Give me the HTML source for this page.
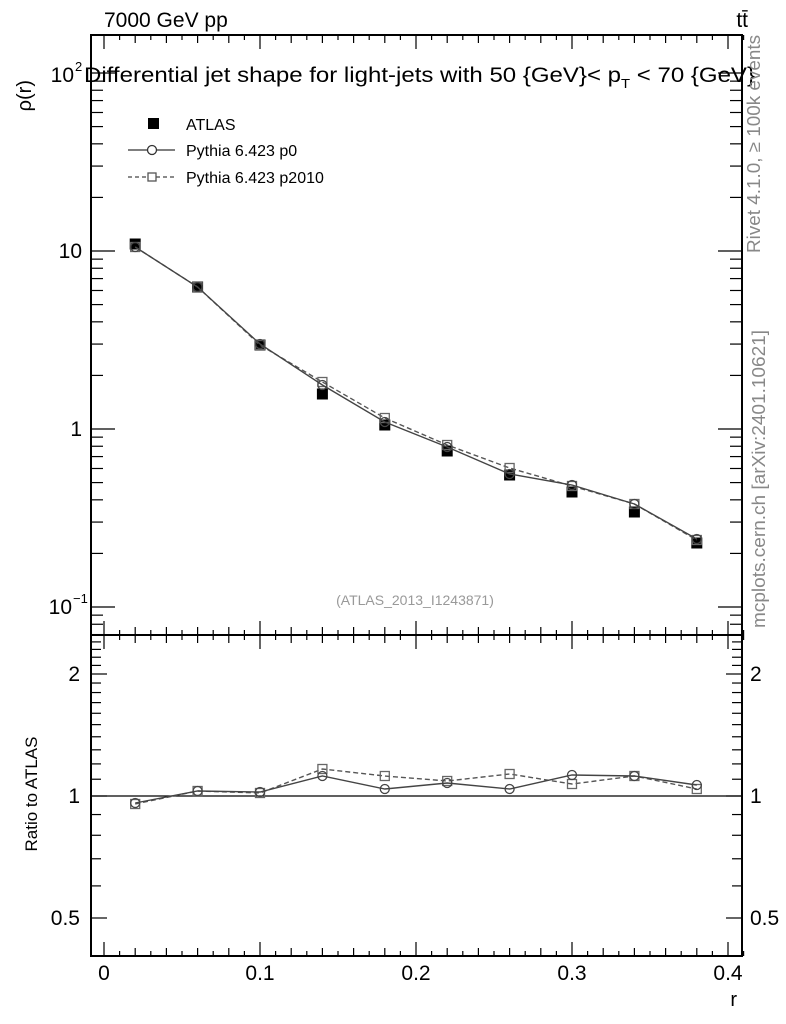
<!DOCTYPE html>
<html><head><meta charset="utf-8"><style>
body{margin:0;background:#fff}
svg{display:block;font-family:"Liberation Sans",sans-serif}
</style></head><body>
<svg id="s" width="786" height="1024" xmlns="http://www.w3.org/2000/svg">
<rect width="786" height="1024" fill="#fff"/>
<g id="g"></g>
<text x="104" y="27" font-size="21">7000 GeV pp</text>
<text x="748" y="27" font-size="21" text-anchor="end">tt̄</text>
<text x="0" y="0" font-size="20" transform="translate(31,80) rotate(-90)" text-anchor="end">ρ(r)</text>
<text x="84" y="82" font-size="21" textLength="671" lengthAdjust="spacingAndGlyphs">Differential jet shape for light-jets with 50 {GeV}&lt; p<tspan font-size="13" dy="6">T</tspan><tspan dy="-6"> &lt; 70 {GeV}</tspan></text>
<rect x="148" y="118" width="11" height="11" fill="#000"/>
<text x="186" y="130" font-size="16">ATLAS</text>
<line x1="128" y1="150" x2="175" y2="150" stroke="#333" stroke-width="1.3"/>
<circle cx="152" cy="150" r="4.5" fill="#fff" stroke="#333" stroke-width="1.3"/>
<text x="186" y="156" font-size="16">Pythia 6.423 p0</text>
<line x1="128" y1="177" x2="175" y2="177" stroke="#444" stroke-width="1.3" stroke-dasharray="4,3"/>
<rect x="148" y="173" width="8" height="8" fill="#fff" stroke="#555" stroke-width="1.3"/>
<text x="186" y="183" font-size="16">Pythia 6.423 p2010</text>
<text x="415" y="605" font-size="14" fill="#999" text-anchor="middle">(ATLAS_2013_I1243871)</text>
<text font-size="18" fill="#888" text-anchor="middle" textLength="218" lengthAdjust="spacingAndGlyphs" transform="translate(760,144) rotate(-90)">Rivet 4.1.0, ≥ 100k events</text>
<text font-size="18" fill="#888" text-anchor="middle" textLength="298" lengthAdjust="spacingAndGlyphs" transform="translate(765,479) rotate(-90)">mcplots.cern.ch [arXiv:2401.10621]</text>
<text font-size="17" text-anchor="middle" transform="translate(37,794) rotate(-90)">Ratio to ATLAS</text>
<text x="737" y="1006" font-size="20" text-anchor="end">r</text>
</svg>
<script>
const g=document.getElementById('g');let h='';
const L=91,R=742,T=35,M=635,B=956;
const X=r=>104+r*1560;
const Y=v=>429-178*Math.log10(v);
const YR=v=>796-122*Math.log2(v);
h+=`<rect x="${L}" y="${T}" width="${R-L}" height="${M-T}" fill="none" stroke="#000" stroke-width="2"/>`;
h+=`<rect x="${L}" y="${M}" width="${R-L}" height="${B-M}" fill="none" stroke="#000" stroke-width="2"/>`;
for(let i=0;i<=41;i++){const r=i*0.01;const x=X(r);const big=i%10==0;const len=big?14:(i%2==0?8:5);
 for(const[y0,d] of [[T,1],[M,-1],[M,1],[B,-1]]){h+=`<line x1="${x}" y1="${y0}" x2="${x}" y2="${y0+d*len}" stroke="#000" stroke-width="1.2"/>`;}}
[0,0.1,0.2,0.3,0.4].forEach(r=>h+=`<text x="${X(r)}" y="980" font-size="21" text-anchor="middle">${r}</text>`);
for(let e=-2;e<=2;e++)for(let k=1;k<10;k++){const v=k*Math.pow(10,e);const y=Y(v);if(y<T||y>M)continue;const len=k==1?24:12;
 h+=`<line x1="${L}" y1="${y}" x2="${L+len}" y2="${y}" stroke="#000" stroke-width="1.2"/><line x1="${R}" y1="${y}" x2="${R-len}" y2="${y}" stroke="#000" stroke-width="1.2"/>`;}
h+=`<text x="82" y="258" font-size="21" text-anchor="end">10</text><text x="82" y="436" font-size="21" text-anchor="end">1</text>`;
h+=`<text x="72" y="614" font-size="21" text-anchor="end">10</text><text x="73" y="603" font-size="13">−1</text>`;
h+=`<text x="74" y="82" font-size="21" text-anchor="end">10</text><text x="75" y="71" font-size="13">2</text>`;
const rt=[0.4,0.5,0.6,0.7,0.8,0.9,1,1.1,1.2,1.3,1.4,1.5,1.6,1.7,1.8,1.9,2,2.1,2.2,2.3,2.4,2.5];
rt.forEach(v=>{const y=YR(v);if(y<M||y>B)return;const big=[0.5,1,2].includes(v);const len=big?16:10;
 h+=`<line x1="${L}" y1="${y}" x2="${L+len}" y2="${y}" stroke="#000" stroke-width="1.2"/><line x1="${R}" y1="${y}" x2="${R-len}" y2="${y}" stroke="#000" stroke-width="1.2"/>`;});
[[2,'2'],[1,'1'],[0.5,'0.5']].forEach(([v,t])=>{h+=`<text x="80" y="${YR(v)+7}" font-size="21" text-anchor="end">${t}</text><text x="750" y="${YR(v)+7}" font-size="21">${t}</text>`;});
h+=`<line x1="${L}" y1="796" x2="${R}" y2="796" stroke="#000" stroke-width="1.3"/>`;
const rs=[0.02,0.06,0.1,0.14,0.18,0.22,0.26,0.30,0.34,0.38];
const atl=[244,287,345,394,425,451,475,492,512,543];
const p0=[247,287,344,385,422,447,474,485,504,539];
const p1=[247,287,345,382,418,445,468,486,504,540];
const r0=[803,791,792,776,789,783,789,775,776,785];
const r1=[804,791,793,769,776,781,774,784,776,789];
const line=(ys,dash,c)=>`<polyline points="${rs.map((r,i)=>X(r)+','+ys[i]).join(' ')}" fill="none" stroke="${c}" stroke-width="1.4" ${dash?'stroke-dasharray="5,3"':''}/>`;
const circ=ys=>rs.map((r,i)=>`<circle cx="${X(r)}" cy="${ys[i]}" r="4.5" fill="none" stroke="#444" stroke-width="1.3"/>`).join('');
const sq=ys=>rs.map((r,i)=>`<rect x="${X(r)-4.5}" y="${ys[i]-4.5}" width="9" height="9" fill="none" stroke="#666" stroke-width="1.3"/>`).join('');
rs.forEach((r,i)=>h+=`<rect x="${X(r)-5.5}" y="${atl[i]-5.5}" width="11" height="11" fill="#000"/>`);
h+=line(p1,1,'#555')+sq(p1)+line(p0,0,'#444')+circ(p0);
h+=line(r1,1,'#555')+sq(r1)+line(r0,0,'#444')+circ(r0);
g.innerHTML=h;
</script>
</body></html>
